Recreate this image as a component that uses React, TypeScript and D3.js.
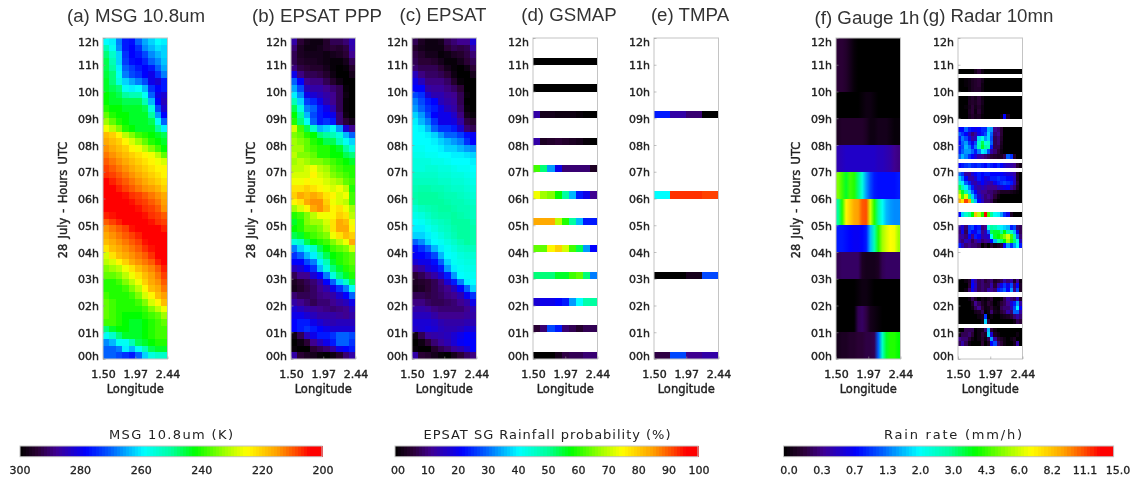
import React, { useEffect, useRef } from 'react';
import * as d3 from 'd3';

const hours = d3.range(0, 13);
const hourLabels = ['00h', '01h', '02h', '03h', '04h', '05h', '06h', '07h', '08h', '09h', '10h', '11h', '12h'];
const lonTicks = [1.5, 1.97, 2.44];

// all grids hold the position along the rainbow colour bar (0-100), top row first
const msgGrid = [
  [41,40,32,24,23,30,35,38,41,40],[48,42,33,24,22,26,33,36,39,38],[52,46,38,26,22,24,28,33,36,38],[54,48,38,27,23,22,25,30,33,37],
  [54,50,40,30,27,24,22,24,30,35],[55,52,42,32,28,26,22,20,26,32],[56,52,44,38,35,32,28,20,18,24],[56,54,52,42,40,41,36,26,22,24],
  [58,56,54,50,48,48,42,30,20,18],[58,56,56,54,54,54,48,36,22,16],[60,58,58,56,56,56,54,44,28,18],[64,60,58,58,56,56,56,50,34,22],
  [68,64,60,58,56,56,56,54,42,30],[74,70,66,60,58,56,56,56,50,40],[82,80,76,70,66,62,60,58,56,54],[84,82,80,76,72,68,64,60,58,56],
  [86,84,82,80,76,74,70,66,62,58],[88,86,84,82,80,78,76,74,70,64],[90,88,86,84,82,80,78,76,74,72],[92,90,88,86,84,82,80,78,76,76],
  [93,92,90,88,86,84,82,80,78,76],[96,94,92,90,88,86,84,82,80,78],[96,96,94,92,90,88,86,85,83,80],[96,96,96,95,93,92,90,88,86,84],
  [96,96,96,96,95,93,92,90,88,85],[96,96,96,96,96,95,93,92,90,86],[94,95,96,96,96,96,95,93,92,90],[90,92,94,96,96,96,96,95,93,92],
  [86,88,90,92,95,96,96,96,96,94],[84,86,88,90,92,94,96,96,96,96],[82,84,86,88,90,92,95,96,96,96],[78,82,84,86,88,90,93,95,96,96],
  [72,78,82,84,86,88,90,93,96,96],[70,72,76,80,84,86,88,90,94,96],[66,68,70,74,78,82,85,87,90,94],[64,64,66,70,74,78,82,85,88,92],
  [60,60,62,66,70,74,80,84,86,90],[60,60,60,62,66,70,76,82,84,88],[62,60,60,60,62,66,72,76,82,85],[64,62,60,60,60,62,66,72,76,82],
  [64,62,60,60,60,60,62,66,70,74],[64,62,60,58,58,58,60,62,64,68],[62,62,60,58,56,56,58,60,62,64],[52,56,58,58,56,56,58,60,62,62],
  [42,46,52,56,56,56,58,60,62,62],[33,36,42,42,48,54,56,58,60,60],[30,30,32,40,36,42,48,54,56,56],[30,30,28,26,24,30,38,44,46,46],
];

const pppGrid = [
  [14,6,3,2,2,5,8,8,10,15],[10,4,2,2,3,5,6,5,7,14],[8,4,3,3,3,2,3,4,6,12],[8,5,4,4,3,2,1,1,3,8],
  [11,7,6,5,5,3,1,0,1,5],[20,11,8,8,7,5,2,0,0,3],[30,22,12,11,11,8,5,2,0,0],[35,28,16,14,14,12,10,8,1,0],
  [40,33,20,18,16,14,12,8,2,0],[48,38,27,25,20,15,12,8,1,0],[54,44,32,30,24,20,15,8,1,0],[58,50,36,28,24,22,20,10,2,0],
  [60,52,42,30,24,26,24,10,6,3],[72,62,54,46,36,38,42,34,18,12],[66,64,60,58,52,50,48,44,36,30],[68,66,64,60,58,54,54,48,42,38],
  [68,68,64,62,60,60,58,56,50,44],[70,66,66,64,60,60,58,58,54,52],[68,70,68,66,66,64,62,60,58,56],[70,70,72,74,70,68,64,62,60,60],
  [72,72,72,76,72,70,66,64,62,60],[74,74,76,74,74,72,70,68,64,62],[78,78,80,78,76,74,72,74,70,60],[80,84,82,84,82,78,76,72,74,62],
  [76,78,84,86,86,80,74,72,70,62],[68,72,76,84,86,82,76,78,74,68],[60,62,66,70,74,74,76,80,78,70],[56,60,66,68,68,72,78,84,82,74],
  [58,60,64,64,66,70,78,84,84,76],[54,56,60,62,64,66,74,78,82,80],[44,46,54,58,60,62,66,70,74,84],[32,38,42,46,54,58,62,64,66,72],
  [26,30,36,40,48,54,58,60,62,64],[22,22,28,32,40,48,56,60,62,64],[16,18,22,26,36,44,52,56,60,62],[8,12,12,18,22,32,44,52,56,60],
  [4,6,8,10,14,22,30,38,46,54],[3,5,7,9,12,15,20,26,32,42],[10,8,8,9,11,12,14,18,22,30],[14,12,10,8,10,10,12,14,16,20],
  [18,16,14,13,12,11,10,11,12,16],[20,20,18,16,14,14,14,13,12,14],[22,24,24,20,18,16,15,16,16,16],[22,24,26,24,22,20,18,18,18,18],
  [2,8,16,20,24,24,26,30,30,28],[0,2,6,12,16,20,24,30,30,26],[1,0,0,6,8,10,14,20,22,24],[14,6,4,3,1,0,2,5,10,14],
];

const epsatGrid = [
  [8,4,2,2,3,8,10,12,12,18],[5,3,2,2,2,6,8,7,8,14],[7,5,3,3,1,2,4,5,7,10],[8,6,6,5,3,1,1,3,6,8],
  [10,8,8,8,6,3,1,0,2,6],[16,11,9,9,8,6,2,0,0,3],[20,16,11,11,11,9,5,1,0,0],[22,22,14,13,13,11,9,6,0,0],
  [28,26,18,15,15,13,12,8,1,0],[32,28,24,22,16,14,13,8,0,0],[34,30,26,24,20,16,14,9,1,0],[38,34,28,22,20,20,17,11,3,1],
  [40,36,32,26,20,20,19,14,7,5],[41,40,36,30,26,26,24,18,10,8],[41,41,40,38,34,30,30,27,23,21],[41,41,41,40,38,36,34,32,26,22],
  [42,42,41,41,40,38,38,36,34,33],[43,43,42,42,41,41,40,40,39,38],[44,44,44,43,43,42,41,41,41,40],[44,44,45,45,44,44,43,42,42,41],
  [46,46,46,46,45,45,44,44,43,42],[47,47,47,47,46,46,45,45,44,43],[48,49,49,48,48,47,46,46,45,44],[49,50,50,50,49,48,48,47,46,45],
  [48,50,50,50,50,49,48,48,47,46],[45,47,48,49,50,50,49,48,48,47],[43,44,46,48,49,49,50,49,48,47],[41,42,44,46,47,48,50,50,50,48],
  [40,40,42,44,46,47,49,50,50,49],[38,38,40,42,44,46,48,50,50,49],[30,33,38,41,42,44,46,48,50,49],[23,26,30,36,40,42,44,46,47,47],
  [21,22,24,28,36,41,42,44,45,45],[18,20,20,23,30,38,42,43,44,44],[12,14,18,20,24,34,40,42,43,43],[6,8,11,14,18,24,34,41,42,42],
  [4,5,6,8,11,18,24,32,40,41],[3,4,6,8,10,12,16,22,30,38],[8,8,7,8,9,11,12,15,21,26],[11,11,9,8,8,9,10,12,14,20],
  [14,14,13,11,10,10,10,10,12,15],[16,16,16,14,12,12,12,12,13,14],[18,18,18,17,15,14,14,14,15,15],[17,18,19,18,16,15,15,16,18,18],
  [2,8,13,14,15,16,18,20,22,21],[0,2,6,10,13,15,18,21,22,22],[1,0,0,5,8,10,13,15,18,22],[14,6,5,3,1,0,3,6,9,11],
];

// 3-hourly / hourly products: only a short slice at the start of each hour has data
const gsmapHours = [11, 10, 9, 8, 7, 6, 5, 4, 3, 2, 1, 0];
const gsmapValues = [
  [0,0,0,0,0,0,0,0,0],[0,0,0,0,0,0,0,0,0],[14,3,3,2,2,2,1,0,0],[14,4,5,6,5,4,3,1,0],
  [62,52,34,20,10,10,10,10,4],[74,68,66,58,50,36,24,20,12],[84,84,84,70,60,50,36,24,24],[64,64,76,80,72,62,54,34,22],
  [52,52,52,56,56,62,64,52,32],[18,20,20,22,24,34,41,49,50],[6,10,28,24,10,8,5,8,8],[0,0,0,3,7,8,8,10,10],
];
const tmpaHours = [9, 6, 3, 0];
const tmpaValues = [
  [24,14,10,0],[41,93,93,92],[0,0,3,28],[7,28,12,14],
];

const gaugeGrid = [
  [6,6,5,3,1,0,0,0,0,0,0,0,0,0,0,0],
  [6,6,5,3,1,0,0,0,0,0,0,0,0,0,0,0],
  [0,0,0,0,0,0,1,2,2,1,0,0,0,0,0,0],
  [4,5,5,5,5,5,5,4,2,2,3,3,3,2,1,1],
  [15,16,17,17,17,17,17,17,17,17,16,16,15,14,12,11],
  [66,62,56,62,60,52,44,34,28,24,23,23,23,23,23,24],
  [50,60,76,80,84,85,90,91,72,60,50,42,36,34,33,33],
  [24,24,23,22,21,21,22,24,36,48,60,68,72,75,74,68],
  [8,9,9,9,9,9,4,3,3,3,4,8,9,9,9,9],
  [0,0,0,0,0,1,2,2,1,0,0,0,0,0,0,0],
  [0,0,0,0,0,8,9,7,3,2,1,0,0,0,0,0],
  [3,4,4,5,5,6,6,7,7,8,30,46,56,60,60,58],
];

// radar: 72 ten-minute rows from the top, null where there is no scan
const radarGrid: (number[] | null)[] = [
  null, null, null, null, null, null, null,
  [0,0,0,0,0,3,6,2,0,0,0,0,0,0,0,0,0,0,0,0],
  null,
  [0,0,1,2,4,5,6,3,0,0,0,0,0,0,0,0,0,0,0,0],
  [0,0,1,2,4,5,6,2,0,0,0,0,0,0,0,0,0,0,0,0],
  [0,0,0,2,4,5,5,2,0,0,0,0,0,0,0,0,0,0,0,0],
  null,
  [0,0,0,3,5,3,6,2,0,0,0,0,0,0,0,0,0,0,0,0],
  [0,0,0,4,5,4,6,3,0,0,0,0,0,0,0,0,0,0,0,0],
  [0,0,1,3,6,3,5,2,0,0,0,0,0,0,0,0,0,0,0,0],
  [0,0,0,4,6,2,6,2,0,0,0,0,0,0,0,0,0,0,0,0],
  [0,0,0,3,5,3,4,1,0,0,0,0,0,2,22,4,0,0,0,0],
  null, null,
  [22,22,30,24,22,20,22,25,25,36,34,12,10,6,0,0,0,0,0,0],
  [30,26,22,16,10,14,20,24,28,38,30,10,12,6,0,0,0,0,0,0],
  [24,32,28,20,14,16,38,44,34,38,28,8,10,5,0,0,0,0,0,0],
  [22,30,34,26,20,28,46,54,44,46,30,8,10,4,0,0,0,0,0,0],
  [24,28,36,32,24,32,48,56,50,48,24,8,8,3,0,0,0,0,0,0],
  [24,30,34,34,30,24,32,40,38,28,14,10,6,2,0,0,0,0,0,0],
  [30,36,32,26,22,18,14,12,10,8,6,5,4,4,8,30,26,5,0,0],
  null,
  [22,24,26,28,25,24,26,24,22,26,24,22,25,22,18,16,14,12,6,2],
  null,
  [30,26,14,12,18,22,24,22,24,24,22,22,22,22,20,18,16,14,4,0],
  [38,32,22,14,14,18,24,22,18,20,24,24,26,24,24,22,20,16,4,0],
  [46,40,30,24,16,14,18,22,18,16,14,20,24,26,28,26,24,16,6,0],
  [54,48,40,32,24,16,14,16,14,12,12,12,16,18,20,22,14,10,4,0],
  [66,56,50,38,30,22,15,12,12,10,10,8,6,4,4,4,3,2,1,0],
  [76,62,72,52,38,28,18,14,10,12,10,6,2,0,0,0,0,0,0,0],
  [84,78,92,84,50,36,22,16,10,10,8,2,0,0,0,0,0,0,0,0],
  null, null,
  [22,38,46,50,58,82,70,60,96,62,50,42,40,34,26,20,4,0,0,0],
  null, null,
  [14,18,10,26,28,22,24,10,12,44,50,48,44,40,38,36,24,28,10,8],
  [10,20,8,26,22,20,26,12,16,30,54,56,56,50,58,50,46,36,20,8],
  [12,14,10,22,12,24,22,14,16,18,42,56,58,62,66,72,62,50,30,10],
  [14,10,16,14,8,12,16,10,12,14,22,36,48,52,58,68,60,52,44,16],
  [24,16,10,12,10,10,8,0,4,0,6,2,4,6,22,34,26,34,42,24],
  null, null, null, null, null, null, null,
  [0,0,2,5,20,14,8,10,6,8,10,4,6,8,14,10,14,4,12,2],
  [0,0,0,6,22,16,8,10,8,8,14,6,14,20,26,20,28,10,22,4],
  [0,0,2,10,20,14,8,10,8,14,12,10,24,26,30,22,34,12,28,4],
  null,
  [0,0,0,2,8,4,0,3,1,3,6,0,0,2,8,14,10,8,16,4],
  [0,0,0,0,4,12,8,4,2,6,4,0,2,6,8,12,18,24,34,14],
  [0,0,0,0,2,8,12,6,2,3,6,2,1,8,10,10,16,28,40,22],
  [0,0,0,0,0,3,4,8,0,2,10,3,2,6,8,14,10,30,30,14],
  [0,0,0,0,0,0,2,3,26,0,2,0,0,2,3,4,6,10,14,10],
  [0,0,0,0,0,0,0,2,38,6,0,0,0,0,0,0,0,2,8,6],
  null,
  [0,0,8,8,8,0,2,3,10,36,6,2,0,0,0,0,0,0,0,0],
  [2,8,8,10,6,0,2,6,4,38,18,4,2,0,0,0,0,0,2,0],
  [12,10,10,6,2,0,2,5,2,8,34,14,6,4,2,0,2,4,0,0],
  [8,14,8,2,0,0,0,6,0,4,22,28,10,6,2,0,0,3,14,0],
  null, null, null,
];

const msgBarLabels = ['300', '280', '260', '240', '220', '200'];
const probBarLabels = ['00', '10', '20', '30', '40', '50', '60', '70', '80', '90', '100'];
const rainBarLabels = ['0.0', '0.3', '0.7', '1.3', '2.0', '3.0', '4.3', '6.0', '8.2', '11.1', '15.0'];

const rainbow = d3
  .scaleLinear<string>()
  .domain([0, 6, 12, 22, 30, 41, 50, 58, 68, 75, 85, 92, 96, 100])
  .range(['#000000', '#2a0035', '#3f0090', '#0000ff', '#0060ff', '#00ffff', '#00ffa0', '#00ff00', '#a0ff00', '#ffff00', '#ffa000', '#ff4000', '#ff0000', '#ff0000'])
  .clamp(true);

const SANS = 'DejaVu Sans';
const TOP = 38;
const BOTTOM = 359;
const PANEL_W = 64.5;
const BAR_Y = 446;
const BAR_H = 10.7;

function App() {
  const svgRef = useRef<SVGSVGElement>(null);

  useEffect(() => {
    const svg = d3.select(svgRef.current);
    svg.selectAll('*').remove();

    const defs = svg.append('defs');
    defs.append('filter')
      .attr('id', 'soft')
      .attr('color-interpolation-filters', 'sRGB')
      .append('feGaussianBlur')
      .attr('stdDeviation', 0.7);
    defs.append('filter')
      .attr('id', 'softText')
      .attr('color-interpolation-filters', 'sRGB')
      .append('feGaussianBlur')
      .attr('stdDeviation', 0.35);

    const y = d3.scaleLinear().domain([0, 12]).range([BOTTOM, TOP]);

    const drawPanel = (id: string, left: number, title: string, titleX: number, titleY: number, withYTitle: boolean, drawCells: (g: any, x: any) => void) => {
      const x = d3.scaleLinear().domain([1.5, 2.44]).range([left, left + PANEL_W]);
      defs.append('clipPath').attr('id', 'clip-' + id)
        .append('rect')
        .attr('x', left).attr('y', TOP)
        .attr('width', PANEL_W).attr('height', BOTTOM - TOP);

      const cells = svg.append('g').attr('clip-path', 'url(#clip-' + id + ')')
        .append('g').attr('filter', 'url(#soft)').attr('shape-rendering', 'crispEdges');
      drawCells(cells, x);

      svg.append('rect')
        .attr('x', left).attr('y', TOP)
        .attr('width', PANEL_W).attr('height', BOTTOM - TOP)
        .attr('fill', 'none').attr('stroke', '#c4c4c4').attr('stroke-width', 1);

      const text = svg.append('g').attr('filter', 'url(#softText)');

      const yAxis = text.append('g')
        .attr('transform', 'translate(' + left + ',0)')
        .call(d3.axisLeft(y).tickValues(hours).tickSize(-2.5).tickPadding(4).tickFormat((d: any) => hourLabels[d]));
      yAxis.select('.domain').remove();
      yAxis.selectAll('line').attr('stroke', '#999').attr('stroke-width', 0.6);
      yAxis.selectAll('text')
        .attr('font-family', SANS).attr('font-size', 11).attr('fill', '#222')
        .attr('stroke', '#222').attr('stroke-width', 0.4)
        .attr('transform', (d: any) => 'translate(0,' + (d === 0 ? -3 : d === 12 ? 3.5 : 0.5) + ')');

      const xAxis = text.append('g')
        .attr('transform', 'translate(0,' + BOTTOM + ')')
        .call(d3.axisBottom(x).tickValues(lonTicks).tickSize(-2.5).tickPadding(11).tickFormat(d3.format('.2f') as any));
      xAxis.select('.domain').remove();
      xAxis.selectAll('line').attr('stroke', '#999').attr('stroke-width', 0.6);
      xAxis.selectAll('text')
        .attr('font-family', SANS).attr('font-size', 11).attr('fill', '#222')
        .attr('stroke', '#222').attr('stroke-width', 0.4);

      text.append('text')
        .attr('x', left + PANEL_W / 2).attr('y', 393)
        .attr('text-anchor', 'middle')
        .attr('font-family', SANS).attr('font-size', 11.5).attr('fill', '#222')
        .attr('stroke', '#222').attr('stroke-width', 0.4)
        .text('Longitude');

      if (withYTitle) {
        text.append('text')
          .attr('transform', 'translate(' + (left - 36) + ',200) rotate(-90)')
          .attr('text-anchor', 'middle')
          .attr('font-family', SANS).attr('font-size', 11.5).attr('fill', '#222')
          .attr('stroke', '#222').attr('stroke-width', 0.4)
          .attr('word-spacing', 1.5)
          .text('28 July - Hours UTC');
      }

      text.append('text')
        .attr('x', titleX).attr('y', titleY)
        .attr('text-anchor', 'middle')
        .attr('font-family', 'Liberation Sans').attr('font-size', 18.7).attr('fill', '#333')
        .text(title);
    };

    // regular grid filling the whole panel
    const fullGrid = (grid: number[][]) => (g: any, x: any) => {
      const cols = d3.scaleBand<number>().domain(d3.range(grid[0].length)).range(x.range());
      const rows = d3.scaleBand<number>().domain(d3.range(grid.length)).range([TOP, BOTTOM]);
      grid.forEach((row, r) => {
        g.selectAll(null).data(row).join('rect')
          .attr('x', (_: number, c: number) => cols(c))
          .attr('y', rows(r))
          .attr('width', cols.bandwidth() + 0.5)
          .attr('height', rows.bandwidth() + 0.5)
          .attr('fill', (v: number) => rainbow(v));
      });
    };

    // gauge rows are smooth across longitude: one gradient per hour
    const gaugeRows = (g: any, x: any) => {
      const rows = d3.scaleBand<number>().domain(d3.range(gaugeGrid.length)).range([TOP, BOTTOM]);
      gaugeGrid.forEach((row, r) => {
        const id = 'gauge-' + r;
        const grad = defs.append('linearGradient').attr('id', id);
        grad.selectAll('stop').data(row).join('stop')
          .attr('offset', (_: number, c: number) => (c + 0.5) / row.length)
          .attr('stop-color', (v: number) => rainbow(v));
        g.append('rect')
          .attr('x', x.range()[0])
          .attr('y', rows(r))
          .attr('width', PANEL_W)
          .attr('height', rows.bandwidth() + 0.5)
          .attr('fill', 'url(#' + id + ')');
      });
    };

    // one thin slice per listed hour
    const slices = (sliceHours: number[], values: number[][]) => (g: any, x: any) => {
      const cols = d3.scaleBand<number>().domain(d3.range(values[0].length)).range(x.range());
      sliceHours.forEach((h, r) => {
        g.selectAll(null).data(values[r]).join('rect')
          .attr('x', (_: number, c: number) => cols(c))
          .attr('y', y(h + 0.27))
          .attr('width', cols.bandwidth() + 0.5)
          .attr('height', y(h) - y(h + 0.27))
          .attr('fill', (v: number) => rainbow(v));
      });
    };

    const radarCells = (g: any, x: any) => {
      const cols = d3.scaleBand<number>().domain(d3.range(20)).range(x.range());
      const rows = d3.scaleBand<number>().domain(d3.range(radarGrid.length)).range([TOP, BOTTOM]);
      radarGrid.forEach((row, r) => {
        if (!row) return;
        g.selectAll(null).data(row).join('rect')
          .attr('x', (_: number, c: number) => cols(c))
          .attr('y', rows(r))
          .attr('width', cols.bandwidth() + 0.5)
          .attr('height', rows.bandwidth() + 0.3)
          .attr('fill', (v: number) => rainbow(v));
      });
    };

    drawPanel('a', 103, '(a) MSG 10.8um', 136, 22, true, fullGrid(msgGrid));
    drawPanel('b', 291, '(b) EPSAT PPP', 317, 22, true, fullGrid(pppGrid));
    drawPanel('c', 412, '(c) EPSAT', 443, 21, false, fullGrid(epsatGrid));
    drawPanel('d', 533, '(d) GSMAP', 569, 21, false, slices(gsmapHours, gsmapValues));
    drawPanel('e', 654, '(e) TMPA', 690, 21, false, slices(tmpaHours, tmpaValues));
    drawPanel('f', 836, '(f) Gauge 1h', 867, 24, true, gaugeRows);
    drawPanel('g', 958, '(g) Radar 10mn', 988, 22, false, radarCells);

    const drawColorBar = (x0: number, x1: number, title: string, titleX: number, titleW: number, labels: string[], labelX0: number, labelX1: number) => {
      const pos = d3.scaleLinear().domain([0, 100]).range([x0, x1]);
      const bar = svg.append('g').attr('shape-rendering', 'crispEdges').attr('filter', 'url(#softText)');
      bar.selectAll(null).data(d3.range(0, 100)).join('rect')
        .attr('x', (d: number) => pos(d))
        .attr('y', BAR_Y)
        .attr('width', (x1 - x0) / 100 + 0.6)
        .attr('height', BAR_H)
        .attr('fill', (d: number) => rainbow(d + 0.5));
      svg.append('rect')
        .attr('x', x0).attr('y', BAR_Y)
        .attr('width', x1 - x0).attr('height', BAR_H)
        .attr('fill', 'none').attr('stroke', '#c4c4c4').attr('stroke-width', 1);

      const text = svg.append('g').attr('filter', 'url(#softText)');
      text.append('text')
        .attr('x', titleX).attr('y', BAR_Y - 7)
        .attr('text-anchor', 'middle')
        .attr('font-family', SANS).attr('font-size', 13).attr('fill', '#222')
        .attr('textLength', titleW).attr('lengthAdjust', 'spacing')
        .text(title);
      const lab = d3.scalePoint<string>().domain(labels).range([labelX0, labelX1]);
      text.selectAll(null).data(labels).join('text')
        .attr('x', (d: string) => lab(d) as number)
        .attr('y', BAR_Y + BAR_H + 17.5)
        .attr('text-anchor', 'middle')
        .attr('font-family', SANS).attr('font-size', 11).attr('fill', '#222')
        .attr('stroke', '#222').attr('stroke-width', 0.3)
        .text((d: string) => d);
    };

    drawColorBar(20, 322, 'MSG 10.8um (K)', 171, 124, msgBarLabels, 20, 323);
    drawColorBar(395, 698, 'EPSAT SG Rainfall probability (%)', 547, 247, probBarLabels, 398, 699);
    drawColorBar(783.5, 1113.6, 'Rain rate (mm/h)', 953, 138, rainBarLabels, 789, 1118);
  }, []);

  return (
    <svg
      ref={svgRef}
      width={1135}
      height={480}
      style={{ position: 'absolute', left: 0, top: 0, background: '#fff' }}
    />
  );
}

export default App;
